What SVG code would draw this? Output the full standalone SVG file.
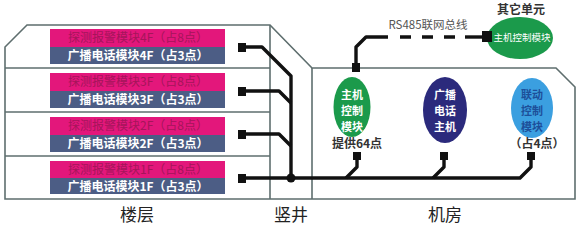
<svg xmlns="http://www.w3.org/2000/svg" width="580" height="225" viewBox="0 0 580 225">
<style>
text{font-family:"Noto Sans CJK SC","Liberation Sans",sans-serif;}
.wall{fill:none;stroke:#5e6e6e;stroke-width:1.6;}
.pink{fill:#e3177b;}
.blue{fill:#4c5d85;}
.pt{fill:#a5155a;font-size:12px;text-anchor:middle;}
.bt{fill:#ffffff;font-size:12px;text-anchor:middle;font-weight:bold;}
.w{stroke:#111;stroke-width:3.4;fill:none;stroke-linejoin:round;}
.sq{fill:#111;}
.et{font-size:11px;text-anchor:middle;font-weight:bold;}
.lab{fill:#333;font-size:12px;text-anchor:middle;font-weight:bold;}
.big{fill:#222;font-size:17px;text-anchor:middle;}
</style>
<g id="building">
<path class="wall" d="M5,199 L5,47 L27,25 L270,25 L312,68 L556,68 L575,87 L575,199 Z"/>
<line class="wall" x1="270" y1="25" x2="270" y2="199"/>
<line class="wall" x1="312" y1="68" x2="312" y2="199"/>
<line class="wall" x1="5" y1="68" x2="270" y2="68"/>
<line class="wall" x1="5" y1="112" x2="270" y2="112"/>
<line class="wall" x1="5" y1="156" x2="270" y2="156"/>
</g>
<g id="floor4">
<rect class="pink" x="50" y="29" width="175" height="18"/>
<rect class="blue" x="50" y="47" width="175" height="17"/>
<text class="pt" x="138" y="42">探测报警模块4F（占8点）</text>
<text class="bt" x="138" y="60">广播电话模块4F（占3点）</text>
</g>
<g id="floor3">
<rect class="pink" x="50" y="73" width="175" height="18"/>
<rect class="blue" x="50" y="91" width="175" height="17"/>
<text class="pt" x="138" y="86">探测报警模块3F（占8点）</text>
<text class="bt" x="138" y="104">广播电话模块3F（占3点）</text>
</g>
<g id="floor2">
<rect class="pink" x="50" y="117" width="175" height="18"/>
<rect class="blue" x="50" y="135" width="175" height="17"/>
<text class="pt" x="138" y="130">探测报警模块2F（占8点）</text>
<text class="bt" x="138" y="148">广播电话模块2F（占3点）</text>
</g>
<g id="floor1">
<rect class="pink" x="50" y="161" width="175" height="17"/>
<rect class="blue" x="50" y="178" width="175" height="16"/>
<text class="pt" x="138" y="174">探测报警模块1F（占8点）</text>
<text class="bt" x="138" y="191">广播电话模块1F（占3点）</text>
</g>
<g id="main-control">
<ellipse cx="352" cy="107" rx="18.5" ry="30" fill="#1b9a4b"/>
<text class="et" fill="#ffffff" x="352" y="99">主机</text>
<text class="et" fill="#ffffff" x="352" y="115">控制</text>
<text class="et" fill="#ffffff" x="352" y="131">模块</text>
<text class="lab" x="357" y="148">提供64点</text>
</g>
<g id="broadcast-host">
<ellipse cx="445" cy="110" rx="22" ry="33" fill="#2b2a7c"/>
<text class="et" fill="#ffffff" x="445" y="99">广播</text>
<text class="et" fill="#ffffff" x="445" y="115">电话</text>
<text class="et" fill="#ffffff" x="445" y="131">主机</text>
</g>
<g id="linkage">
<ellipse cx="532" cy="108" rx="21" ry="30" fill="#3b9fe0"/>
<text class="et" fill="#1d4f9a" x="532" y="99">联动</text>
<text class="et" fill="#1d4f9a" x="532" y="115">控制</text>
<text class="et" fill="#1d4f9a" x="532" y="131">模块</text>
<text class="lab" x="537" y="148">（占4点）</text>
</g>
<g id="other-unit">
<text class="lab" x="521" y="14">其它单元</text>
<ellipse cx="520" cy="38" rx="33" ry="21" fill="#1b9a4b"/>
<text fill="#ffffff" font-size="9.5" text-anchor="middle" x="522" y="41">主机控制模块</text>
</g>
<g id="connectors">
<path class="w" d="M245,47 L262,47 L291,76 L291,178"/>
<path class="w" d="M245,91 L279,91 L291,103"/>
<path class="w" d="M245,134 L279,134 L291,146"/>
<path class="w" d="M245,178 L520,178 L531,167 L531,158"/>
<path class="w" d="M357,158 L357,167 L346,178"/>
<path class="w" d="M444,158 L444,167 L433,178"/>
<circle cx="291" cy="178" r="4.5" fill="#111"/>
<rect class="sq" x="238" y="43" width="8" height="9"/>
<rect class="sq" x="238" y="87" width="8" height="9"/>
<rect class="sq" x="238" y="130" width="8" height="9"/>
<rect class="sq" x="238" y="174" width="8" height="9"/>
<rect class="sq" x="353" y="152" width="8" height="8"/>
<rect class="sq" x="440" y="152" width="8" height="8"/>
<rect class="sq" x="527" y="152" width="8" height="8"/>
<path class="w" d="M356,67 L356,47 L366,37 L388,37"/>
<line class="w" x1="400" y1="37" x2="455" y2="37" stroke-dasharray="11 11" stroke-linejoin="miter"/>
<line class="w" x1="465" y1="37" x2="485" y2="37"/>
<rect class="sq" x="352" y="63" width="8" height="9"/>
<rect class="sq" x="482" y="31" width="10" height="11"/>
<text fill="#555" font-size="11.5" text-anchor="middle" x="428" y="29">RS485联网总线</text>
</g>
<g id="labels">
<text class="big" x="137" y="221">楼层</text>
<text class="big" x="291" y="221">竖井</text>
<text class="big" x="445" y="221">机房</text>
</g>
</svg>
